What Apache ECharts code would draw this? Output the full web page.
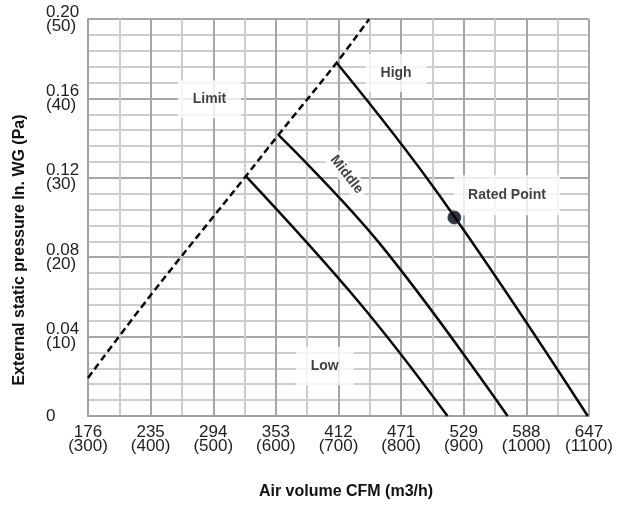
<!DOCTYPE html>
<html>
<head>
<meta charset="utf-8">
<script src="https://cdn.jsdelivr.net/npm/echarts@6/dist/echarts.min.js"></script>
<style>
html,body{margin:0;padding:0;background:#fff;}
#chart{width:617px;height:505px;}
</style>
</head>
<body>
<div id="chart"></div>
<script>
// X axis ticks: air volume in m3/h with CFM equivalents
var xTickM3h = [300, 400, 500, 600, 700, 800, 900, 1000, 1100];
var xTickCFM = ['176', '235', '294', '353', '412', '471', '529', '588', '647'];
// Y axis ticks: pressure in Pa with In. WG equivalents
var yTickPa = [0, 10, 20, 30, 40, 50];
var yTickInWG = ['0', '0.04', '0.08', '0.12', '0.16', '0.20'];

// Curves: [m3/h, Pa]
var limitCurve = [[300, 4.8], [400, 15.2], [552, 30.2], [604, 35.4], [697, 44.5], [749, 50]];
var lowCurve = [[552, 30.2], [734, 14.2], [874, 0]];
var middleCurve = [[604, 35.4], [765, 21.8], [970, 0]];
var highCurve = [[697, 44.5], [861, 27.8], [1098, 0]];
var ratedPoint = [[885, 25.0]];

// Annotation texts and their anchor points in data units
var annotationText = ['Limit', 'High', 'Middle', 'Rated Point', 'Low'];
var annotationAnchor = [[494, 39.9], [792, 43.2], [713, 30.4], [969, 27.8], [678, 6.3]];

var xTitle = 'Air volume CFM (m3/h)';
var yTitle = 'External static pressure In. WG (Pa)';

var FONT = 'Liberation Sans';
var chart = echarts.init(document.getElementById('chart'));

var annData = annotationText.map(function (t, i) {
  return {
    value: annotationAnchor[i],
    name: t,
    label: {
      show: true,
      position: 'inside',
      formatter: t,
      rotate: t === 'Middle' ? -52 : 0,
      padding: t === 'Middle' ? [2, 4] : (t === 'Rated Point' ? [13, 14] : [12, 15])
    }
  };
});

function curve(name, data, dashed) {
  return {
    type: 'line',
    name: name,
    z: 5,
    data: data,
    showSymbol: false,
    smooth: 0.4,
    lineStyle: { color: '#0a0a0a', width: 2.5, type: dashed ? [7, 4] : 'solid' }
  };
}

var option = {
  animation: false,
  backgroundColor: '#fff',
  grid: { left: 88, right: 28, top: 19, bottom: 89, containLabel: false },
  xAxis: {
    type: 'value',
    min: 300,
    max: 1100,
    interval: 50,
    axisLine: { show: true, lineStyle: { color: '#a0a0a0', width: 2 } },
    axisTick: { show: false },
    axisLabel: {
      show: true,
      margin: 9,
      showMinLabel: true,
      showMaxLabel: true,
      hideOverlap: false,
      color: '#1e1e1e',
      fontFamily: FONT,
      fontSize: 17,
      lineHeight: 14,
      formatter: function (v) {
        var i = xTickM3h.indexOf(v);
        if (i < 0) return '';
        return xTickCFM[i] + '\n(' + xTickM3h[i] + ')';
      }
    },
    splitLine: {
      show: true,
      lineStyle: { color: ['#a6a6a6', '#cdcdcd'], width: 2 }
    }
  },
  yAxis: {
    type: 'value',
    min: 0,
    max: 50,
    interval: 2,
    axisLine: { show: true, lineStyle: { color: '#a0a0a0', width: 2 } },
    axisTick: { show: false },
    axisLabel: {
      show: true,
      margin: 42,
      align: 'left',
      showMinLabel: true,
      showMaxLabel: true,
      hideOverlap: false,
      color: '#1e1e1e',
      fontFamily: FONT,
      fontSize: 17,
      lineHeight: 14,
      formatter: function (v) {
        var i = yTickPa.indexOf(v);
        if (i < 0) return '';
        if (v === 0) return yTickInWG[i];
        return yTickInWG[i] + '\n(' + yTickPa[i] + ')';
      }
    },
    splitLine: {
      show: true,
      lineStyle: { color: ['#a6a6a6', '#cdcdcd', '#cdcdcd', '#cdcdcd', '#cdcdcd'], width: 2 }
    }
  },
  graphic: [
    {
      type: 'text',
      x: 20, y: 250,
      rotation: Math.PI / 2,
      style: {
        text: yTitle,
        fill: '#111',
        font: 'bold 16px "Liberation Sans"',
        align: 'center',
        verticalAlign: 'middle'
      }
    },
    {
      type: 'text',
      x: 346, y: 492,
      style: {
        text: xTitle,
        fill: '#111',
        font: 'bold 16px "Liberation Sans"',
        align: 'center',
        verticalAlign: 'middle'
      }
    }
  ],
  series: [
    {
      type: 'scatter',
      z: 3,
      symbolSize: 0,
      silent: true,
      data: annData,
      label: {
        show: true,
        color: '#111',
        fontFamily: FONT,
        fontWeight: 'bold',
        fontSize: 14,
        backgroundColor: '#fff'
      }
    },
    curve('Limit', limitCurve, true),
    curve('Low', lowCurve, false),
    curve('Middle', middleCurve, false),
    curve('High', highCurve, false),
    {
      type: 'scatter',
      name: 'Rated Point',
      z: 6,
      data: ratedPoint,
      symbolSize: 13,
      itemStyle: { color: '#000', borderColor: '#1f3a6b', borderWidth: 1 }
    }
  ]
};
chart.setOption(option);
</script>
</body>
</html>
